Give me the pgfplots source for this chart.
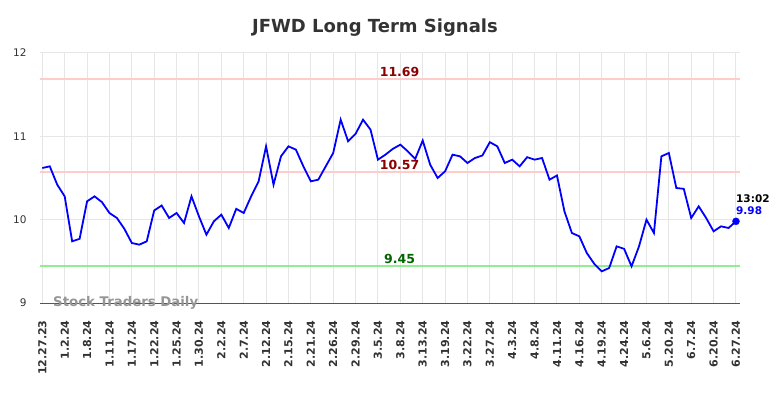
\documentclass[border=0pt]{standalone}
\usepackage{fontspec}
\setmainfont{DejaVu Sans}
\usepackage{pgfplots}
\usepackage{pgfplotstable}
\pgfplotsset{compat=1.18}
\definecolor{titlegray}{RGB}{51,51,51}
\definecolor{gridgray}{RGB}{230,230,230}
\definecolor{axisgray}{RGB}{85,85,85}
\definecolor{reslinecol}{RGB}{255,204,204}
\definecolor{suplinecol}{RGB}{144,238,144}
\definecolor{reslabel}{RGB}{139,0,0}
\definecolor{suplabel}{RGB}{0,100,0}
\definecolor{wmgray}{RGB}{150,150,150}
\pgfplotstableread{
x y
0 10.62
1 10.64
2 10.42
3 10.28
4 9.74
5 9.77
6 10.22
7 10.28
8 10.21
9 10.08
10 10.02
11 9.89
12 9.72
13 9.70
14 9.74
15 10.11
16 10.17
17 10.02
18 10.08
19 9.96
20 10.28
21 10.04
22 9.82
23 9.98
24 10.06
25 9.90
26 10.13
27 10.08
28 10.28
29 10.46
30 10.88
31 10.42
32 10.76
33 10.88
34 10.84
35 10.64
36 10.46
37 10.48
38 10.64
39 10.80
40 11.20
41 10.94
42 11.03
43 11.20
44 11.08
45 10.72
46 10.78
47 10.85
48 10.90
49 10.82
50 10.73
51 10.95
52 10.66
53 10.50
54 10.58
55 10.78
56 10.76
57 10.68
58 10.74
59 10.77
60 10.93
61 10.88
62 10.68
63 10.72
64 10.64
65 10.75
66 10.72
67 10.74
68 10.48
69 10.53
70 10.10
71 9.84
72 9.80
73 9.60
74 9.47
75 9.38
76 9.42
77 9.68
78 9.65
79 9.44
80 9.68
81 10.00
82 9.84
83 10.76
84 10.80
85 10.38
86 10.37
87 10.02
88 10.16
89 10.02
90 9.86
91 9.92
92 9.90
93 9.98
}\pricedata
\begin{document}
\begin{tikzpicture}
\begin{axis}[
  scale only axis,
  width=700bp, height=250bp,
  xmin=-0.31, xmax=93.54,
  ymin=9, ymax=12,
  axis x line*=bottom,
  axis y line*=left,
  x axis line style={draw=axisgray, line width=1bp, -},
  y axis line style={draw=none, -},
  xtick={0,3,...,93},
  xticklabels={12.27.23,1.2.24,1.8.24,1.11.24,1.17.24,1.22.24,1.25.24,1.30.24,2.2.24,2.7.24,2.12.24,2.15.24,2.21.24,2.26.24,2.29.24,3.5.24,3.8.24,3.13.24,3.19.24,3.22.24,3.27.24,4.3.24,4.8.24,4.11.24,4.16.24,4.19.24,4.24.24,5.6.24,5.20.24,6.7.24,6.20.24,6.27.24},
  ytick={9,10,11,12},
  major tick length=0pt,
  grid=major,
  major grid style={draw=gridgray, line width=1bp},
  xticklabel style={rotate=90, anchor=east, font=\fontsize{11bp}{13bp}\selectfont\bfseries, text=titlegray},
  xticklabel shift=14bp,
  yticklabel style={font=\fontsize{10.5bp}{12bp}\selectfont, text=titlegray, /pgf/number format/assume math mode=true},
  yticklabel shift=10bp,
  clip=false,
]
\addplot[draw=reslinecol, line width=2bp, forget plot] coordinates {(-0.31,11.69) (93.54,11.69)};
\addplot[draw=reslinecol, line width=2bp, forget plot] coordinates {(-0.31,10.57) (93.54,10.57)};
\addplot[draw=suplinecol, line width=2bp, forget plot] coordinates {(-0.31,9.45) (93.54,9.45)};
\addplot[draw=blue, line width=1.8bp, mark=none] table[x=x,y=y] {\pricedata};
\addplot[only marks, mark=*, mark size=3.5bp, blue] coordinates {(93,9.98)};
\node[anchor=south, text=reslabel, font=\fontsize{12.5bp}{14bp}\selectfont\bfseries, inner sep=1.5bp] at (axis cs:47.9,11.69) {11.69};
\node[anchor=south, text=reslabel, font=\fontsize{12.5bp}{14bp}\selectfont\bfseries, inner sep=2.5bp] at (axis cs:47.9,10.57) {10.57};
\node[anchor=south, text=suplabel, font=\fontsize{12.5bp}{14bp}\selectfont\bfseries, inner sep=1.5bp] at (axis cs:47.9,9.45) {9.45};
\node[anchor=west, text=black, font=\fontsize{10.5bp}{12bp}\selectfont\bfseries, inner sep=0pt] at ([yshift=22.5bp]axis cs:93,9.98) {13:02};
\node[anchor=west, text=blue, font=\fontsize{10.5bp}{12bp}\selectfont\bfseries, inner sep=0pt] at ([yshift=10.5bp]axis cs:93,9.98) {9.98};
\node[anchor=west, text=wmgray, font=\fontsize{13.3bp}{15bp}\selectfont\bfseries, inner sep=0pt] at ([xshift=13bp]axis cs:-0.31,9) {Stock Traders Daily};
\node[text=titlegray, font=\fontsize{18bp}{20bp}\selectfont\bfseries, inner sep=0pt] at ([yshift=25bp]axis cs:44.6,12) {JFWD Long Term Signals};
\end{axis}
\pgfresetboundingbox
\path[use as bounding box] ([shift={(-40bp,-95bp)}]current axis.south west) rectangle ([shift={(44bp,53bp)}]current axis.north east);
\end{tikzpicture}
\end{document}
